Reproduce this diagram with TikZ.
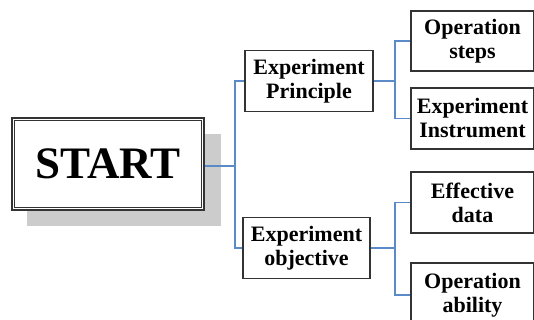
\documentclass[tikz,border=0pt]{standalone}
\usepackage{fontspec}
\setmainfont{Liberation Serif}
\definecolor{conn}{HTML}{5B8BC7}
\definecolor{edge}{HTML}{333333}
\definecolor{shadowgray}{HTML}{CCCCCC}
\begin{document}
\begin{tikzpicture}[x=1pt,y=-1pt,
  box/.style={draw=edge,line width=1.3pt,fill=white,align=center,inner sep=0pt,
    font=\fontsize{22}{24}\selectfont\bfseries,text=black},
  link/.style={draw=conn,line width=1.1pt}]
\useasboundingbox (0,0) rectangle (534,320);
\fill[white] (0,0) rectangle (534,320);
% shadow
\fill[shadowgray] (27,134) rectangle (221,226);
% START box
\node[draw=edge,line width=1.3pt,fill=white,minimum width=192pt,minimum height=92pt,inner sep=0pt,
  font=\fontsize{45}{48}\selectfont\bfseries] (start) at (108,164) {START};
\draw[edge,line width=1.2pt] ([xshift=3.5pt,yshift=3.5pt]start.south west) rectangle ([xshift=-3.5pt,yshift=-3.5pt]start.north east);
% level 1
\node[box,minimum width=128pt,minimum height=61pt] (prin) at (309,81) {Experiment\\Principle};
\node[box,minimum width=127pt,minimum height=61pt] (obj) at (306.5,248) {Experiment\\objective};
% level 2
\node[box,minimum width=123pt,minimum height=60pt] (ops) at (472.5,41) {Operation\\steps};
\node[box,minimum width=123pt,minimum height=61pt] (ins) at (472.5,118.5) {Experiment\\Instrument};
\node[box,minimum width=123pt,minimum height=61pt] (eff) at (472.5,202.5) {Effective\\data};
\node[box,minimum width=123pt,minimum height=64pt] (abl) at (472.5,295) {Operation\\ability};
% junctions
\coordinate (j1) at (235,166);
\coordinate (j2) at (395,81);
\coordinate (j3) at (395,248);
% connectors
\draw[link] ([yshift=-2pt]start.east) -- (j1);
\draw[link] (prin.west) -| (j1) |- (obj.west);
\draw[link] (prin.east) -- (j2);
\draw[link] (ops.west) -| (j2) |- (ins.west);
\draw[link] (obj.east) -- (j3);
\draw[link] (eff.west) -| (j3) |- (abl.west);
\end{tikzpicture}
\end{document}
